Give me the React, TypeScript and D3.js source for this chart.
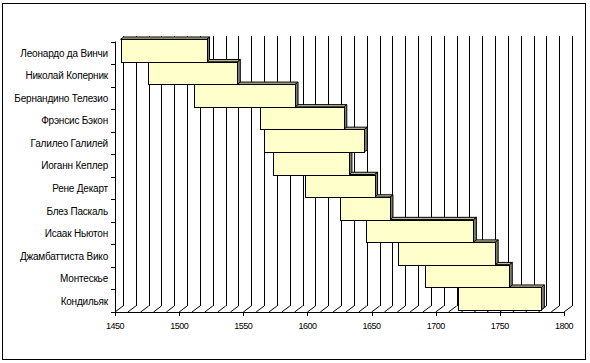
import React from "react";
import * as d3 from "d3";

const names = [
  "Леонардо да Винчи",
  "Николай Коперник",
  "Бернандино Телезио",
  "Фрэнсис Бэкон",
  "Галилео Галилей",
  "Иоганн Кеплер",
  "Рене Декарт",
  "Блез Паскаль",
  "Исаак Ньютон",
  "Джамбаттиста Вико",
  "Монтескье",
  "Кондильяк",
];
const born = [1452, 1473, 1509, 1561, 1564, 1571, 1596, 1623, 1643, 1668, 1689, 1715];
const died = [1519, 1543, 1588, 1626, 1642, 1630, 1650, 1662, 1727, 1744, 1755, 1780];
const xTicks = [1450, 1500, 1550, 1600, 1650, 1700, 1750, 1800];
const gridYears = d3.range(1450, 1801, 10);

const W = 590;
const H = 363;
const DX = 8; // wall depth
const DY = -6;
const BOX = 3 / 8; // bar front depth fraction
const BDX = 3; // bar depth
const BDY = -2.25;

const FONT = "'Liberation Sans', Arial, sans-serif";

export default function App() {
  const x = d3.scaleLinear().domain([1450, 1800]).range([115, 564]);
  const y = d3.scaleBand<string>().domain(names).range([41.5, 312]).padding(0);
  const floorY = 312;
  const topY = 41.5;
  const p = (v: number) => Math.round(v) + 0.5;

  const boundaries = d3.range(0, names.length + 1).map((i) => topY + i * y.bandwidth());

  const bars = names
    .map((n, i) => {
      const x0 = x(born[i]) + DX * BOX;
      const x1 = x(died[i]) + DX * BOX;
      const y0 = (y(n) as number) + DY * BOX;
      const y1 = y0 + y.bandwidth();
      return { n, i, x0, x1, y0, y1 };
    })
    .reverse();

  return (
    <svg
      width={W}
      height={H}
      style={{ position: "absolute", left: 0, top: 0, background: "#fff" }}
    >
      <rect x={2.5} y={3.5} width={583} height={356} fill="#fff" stroke="#000" strokeWidth={1} />
      {/* back wall gridlines */}
      {gridYears.map((g) => (
        <line
          key={"g" + g}
          x1={p(x(g) + DX)}
          x2={p(x(g) + DX)}
          y1={Math.round(topY + DY)}
          y2={floorY + DY}
          stroke="#000"
          strokeWidth={1}
        />
      ))}
      {/* floor diagonals */}
      {gridYears.map((g) => (
        <line
          key={"f" + g}
          x1={x(g)}
          y1={floorY}
          x2={x(g) + DX}
          y2={floorY + DY}
          stroke="#000"
          strokeWidth={1}
        />
      ))}
      {/* x axis */}
      <line x1={x(1450)} x2={x(1800)} y1={p(floorY)} y2={p(floorY)} stroke="#000" />
      {xTicks.map((t) => (
        <g key={"t" + t}>
          <line x1={p(x(t))} x2={p(x(t))} y1={floorY} y2={floorY + 4} stroke="#000" />
          <text
            x={x(t)}
            y={329}
            textAnchor="middle"
            fontFamily={FONT}
            fontSize={9}
            letterSpacing={-0.5}
            fill="#000"
          >
            {t}
          </text>
        </g>
      ))}
      {/* y axis */}
      <line x1={p(x(1450))} x2={p(x(1450))} y1={topY} y2={floorY + 0.5} stroke="#000" />
      {boundaries.map((b, i) => (
        <line key={"yt" + i} x1={111} x2={p(x(1450))} y1={p(b)} y2={p(b)} stroke="#000" />
      ))}
      {names.map((n) => (
        <text
          key={"l" + n}
          x={108}
          y={(y(n) as number) + y.bandwidth() / 2 + 4}
          textAnchor="end"
          fontFamily={FONT}
          fontSize={10}
          letterSpacing={-0.2}
          fill="#000"
        >
          {n}
        </text>
      ))}
      {/* bars, bottom to top */}
      {bars.map((b) => (
        <g key={"b" + b.n} stroke="#000" strokeWidth={1} strokeLinejoin="miter">
          <polygon
            points={`${b.x1},${b.y0} ${b.x1 + BDX},${b.y0 + BDY} ${b.x1 + BDX},${b.y1 + BDY} ${b.x1},${b.y1}`}
            fill="#808062"
          />
          <polygon
            points={`${b.x0},${b.y0} ${b.x0 + BDX},${b.y0 + BDY} ${b.x1 + BDX},${b.y0 + BDY} ${b.x1},${b.y0}`}
            fill="#BDBD9C"
          />
          <rect
            x={p(b.x0)}
            y={p(b.y0)}
            width={Math.round(b.x1) - Math.round(b.x0)}
            height={Math.round(b.y1) - Math.round(b.y0)}
            fill="#FFFFCC"
          />
        </g>
      ))}
    </svg>
  );
}
